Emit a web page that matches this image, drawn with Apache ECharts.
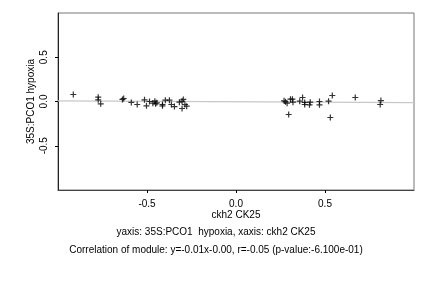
<!DOCTYPE html>
<html><head><meta charset="utf-8">
<script src="https://cdn.jsdelivr.net/npm/echarts@6/dist/echarts.min.js"></script>
<style>html,body{margin:0;padding:0;background:#fff}#c{width:432px;height:288px}</style>
</head><body><div id="c"></div>
<script>
const xValues = [-0.914,-0.774,-0.774,-0.760,-0.638,-0.631,-0.588,-0.555,-0.514,-0.503,-0.486,-0.467,-0.456,-0.452,-0.445,-0.413,-0.413,-0.397,-0.374,-0.363,-0.346,-0.318,-0.303,-0.296,-0.303,-0.287,-0.277,
  0.270,0.278,0.287,0.306,0.317,0.320,0.296,0.374,0.358,0.386,0.386,0.417,0.413,0.469,0.469,0.520,0.541,0.530,0.670,0.814,0.810];
const yValues = [0.079,0.049,0.019,-0.026,0.023,0.034,-0.011,-0.034,0.019,-0.049,0.000,-0.019,0.004,-0.026,-0.015,-0.034,-0.049,0.015,0.015,-0.034,-0.057,-0.008,0.004,0.023,-0.079,-0.034,-0.053,
  0.008,-0.004,-0.019,0.026,0.026,-0.008,-0.147,0.045,0.004,-0.011,-0.034,-0.008,-0.038,0.000,-0.038,0.004,0.068,-0.181,0.045,0.011,-0.034];
const fitSlope = -0.01;
const fitIntercept = -0.003;
const fitX = [-1, 1];
const tickValues = [-0.5, 0, 0.5];
const xName = 'ckh2 CK25';
const yName = '35S:PCO1 hypoxia';
const subLine1 = 'yaxis: 35S:PCO1  hypoxia, xaxis: ckh2 CK25';
const subLine2 = 'Correlation of module: y=-0.01x-0.00, r=-0.05 (p-value:-6.100e-01)';

const pts = xValues.map((x, i) => [x, yValues[i]]);
const fitPts = fitX.map(x => [x, fitSlope * x + fitIntercept]);
const font = 'Liberation Sans';

const chart = echarts.init(document.getElementById('c'), null, {renderer: 'canvas'});
chart.setOption({
  animation: false,
  backgroundColor: '#fff',
  textStyle: {fontFamily: font},
  grid: {left: 58, right: 18, top: 13, bottom: 98, show: true, borderColor: '#777', borderWidth: 1},
  xAxis: {
    type: 'value', min: -1, max: 1, interval: 0.5,
    name: xName, nameLocation: 'middle', nameGap: 20, nameMoveOverlap: false,
    nameTextStyle: {fontFamily: font, fontSize: 10, color: '#000'},
    splitLine: {show: false},
    axisLine: {show: true, onZero: false, lineStyle: {color: '#444', width: 1}},
    axisTick: {show: true, length: 3, lineStyle: {color: '#000'}, customValues: tickValues},
    axisLabel: {fontFamily: font, fontSize: 10, color: '#000', margin: 9, customValues: tickValues,
      formatter: v => v.toFixed(1)}
  },
  yAxis: {
    type: 'value', min: -1, max: 1, interval: 0.5,
    name: yName, nameLocation: 'middle', nameGap: 22, nameMoveOverlap: false,
    nameTextStyle: {fontFamily: font, fontSize: 10, color: '#000'},
    splitLine: {show: false},
    axisLine: {show: true, onZero: false, lineStyle: {color: '#222', width: 1}},
    axisTick: {show: true, length: 3, lineStyle: {color: '#000'}, customValues: tickValues},
    axisLabel: {fontFamily: font, fontSize: 10, color: '#000', margin: 9, rotate: 90, customValues: tickValues,
      formatter: v => v.toFixed(1)}
  },
  graphic: [
    {type: 'text', left: 'center', top: 227, style: {text: subLine1, font: '10px "Liberation Sans"', fill: '#000'}},
    {type: 'text', left: 'center', top: 245, style: {text: subLine2, font: '10px "Liberation Sans"', fill: '#000'}}
  ],
  series: [
    {type: 'line', data: fitPts, symbol: 'none', lineStyle: {color: '#c8c8c8', width: 1.2}, z: 1, silent: true},
    {type: 'scatter', data: pts, symbol: 'path://M-0.2,-1H0.2V1H-0.2Z M-1,-0.2H1V0.2H-1Z', symbolSize: 6,
      itemStyle: {color: '#000'}, z: 3}
  ]
});
</script></body></html>
